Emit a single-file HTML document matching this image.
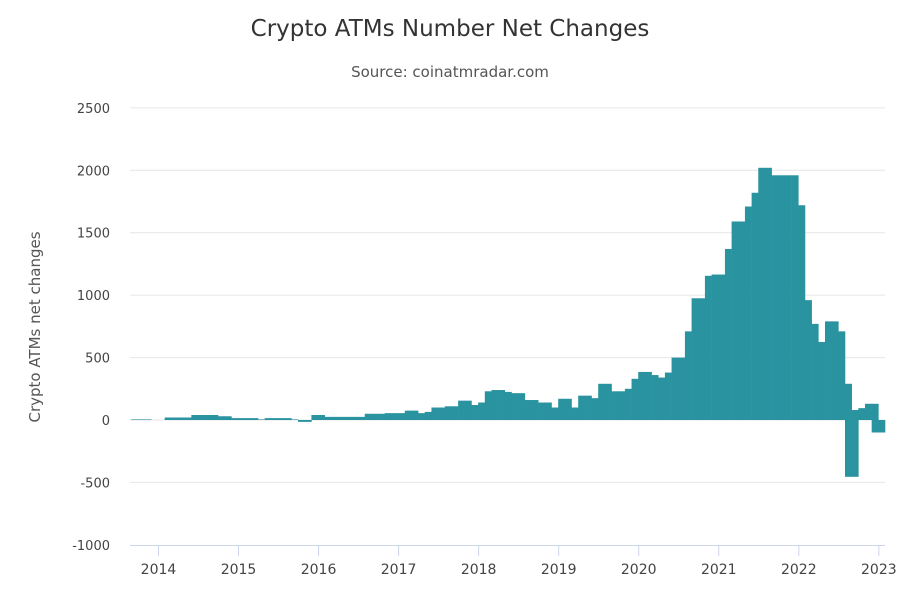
<!DOCTYPE html>
<html><head><meta charset="utf-8"><style>
body{margin:0;background:#fff;}
svg text{font-family:"DejaVu Sans","Liberation Sans",sans-serif;}
</style></head><body>
<svg id="chart" width="900" height="600">
<text x="450" y="36" text-anchor="middle" font-size="23" fill="#333">Crypto ATMs Number Net Changes</text>
<text x="450" y="77" text-anchor="middle" font-size="15" fill="#555">Source: coinatmradar.com</text>
<text transform="translate(40,327) rotate(-90)" text-anchor="middle" font-size="15" fill="#555">Crypto ATMs net changes</text>
<g id="grid"></g><g id="bars"></g><g id="xaxis"></g>
</svg>
<script>
const yTicks=[-1000,-500,0,500,1000,1500,2000,2500];
const xTickLabels=["2014","2015","2016","2017","2018","2019","2020","2021","2022","2023"];
const xTickMonthIndex=[4,16,28,40,52,64,76,88,100,112];
const values=[5,5,5,0,0,20,20,20,20,40,40,40,40,30,30,15,15,15,15,5,15,15,15,15,5,-15,-15,40,40,25,25,25,25,25,25,50,50,50,55,55,55,75,75,55,65,100,100,110,110,155,155,120,140,230,240,240,225,215,215,160,160,140,140,100,170,170,100,195,195,175,290,290,230,230,250,330,385,385,360,340,380,500,500,710,975,975,1155,1165,1165,1370,1590,1590,1710,1820,2020,2020,1960,1960,1960,1960,1720,960,770,625,790,790,710,290,80,95,130,130,0];
const negIndex=[107,108,111,112];
const negValues=[-455,-455,-100,-100];
const NS="http://www.w3.org/2000/svg";
const y0=420, pxPer=437/3500, x0=131.3, mw=6.67;
function ys(v){return y0-v*pxPer;}
function xs(i){return x0+i*mw;}
function mk(t,a,p){const e=document.createElementNS(NS,t);for(const k in a)e.setAttribute(k,a[k]);p.appendChild(e);return e;}
const grid=document.getElementById('grid');
yTicks.forEach(v=>{
 if(v!==-1000){const l=mk('line',{x1:130,x2:885,y1:ys(v),y2:ys(v),stroke:'#e6e6e6','stroke-width':1},grid);
 
 }
 const t=mk('text',{x:110,y:ys(v)+5,'text-anchor':'end','font-size':13,fill:'#444'},grid);
 t.textContent=v;
 
 
});
const bars=document.getElementById('bars');
values.forEach((v,i)=>{
 const r=mk('rect',{x:xs(i),width:mw+0.3,y:Math.min(ys(v),y0),height:Math.abs(ys(v)-y0),fill:'#2a93a0'},bars);
 
 
});
negValues.forEach((v,k)=>{
 const i=negIndex[k];
 const r=mk('rect',{x:xs(i),width:mw+0.3,y:y0,height:Math.abs(ys(v)-y0),fill:'#2a93a0'},bars);
 
 
});
const xa=document.getElementById('xaxis');
const al=mk('line',{x1:130,x2:885,y1:545.5,y2:545.5,stroke:'#ccd6eb'},xa);


xTickLabels.forEach((s,k)=>{
 const x=xs(xTickMonthIndex[k])+0.5;
 const tk=mk('line',{x1:x,x2:x,y1:545,y2:556,stroke:'#ccd6eb'},xa);
 
 
 const t=mk('text',{x:x,y:574,'text-anchor':'middle','font-size':14,fill:'#444'},xa);
 t.textContent=s;
 
 
});
</script>
</body></html>
